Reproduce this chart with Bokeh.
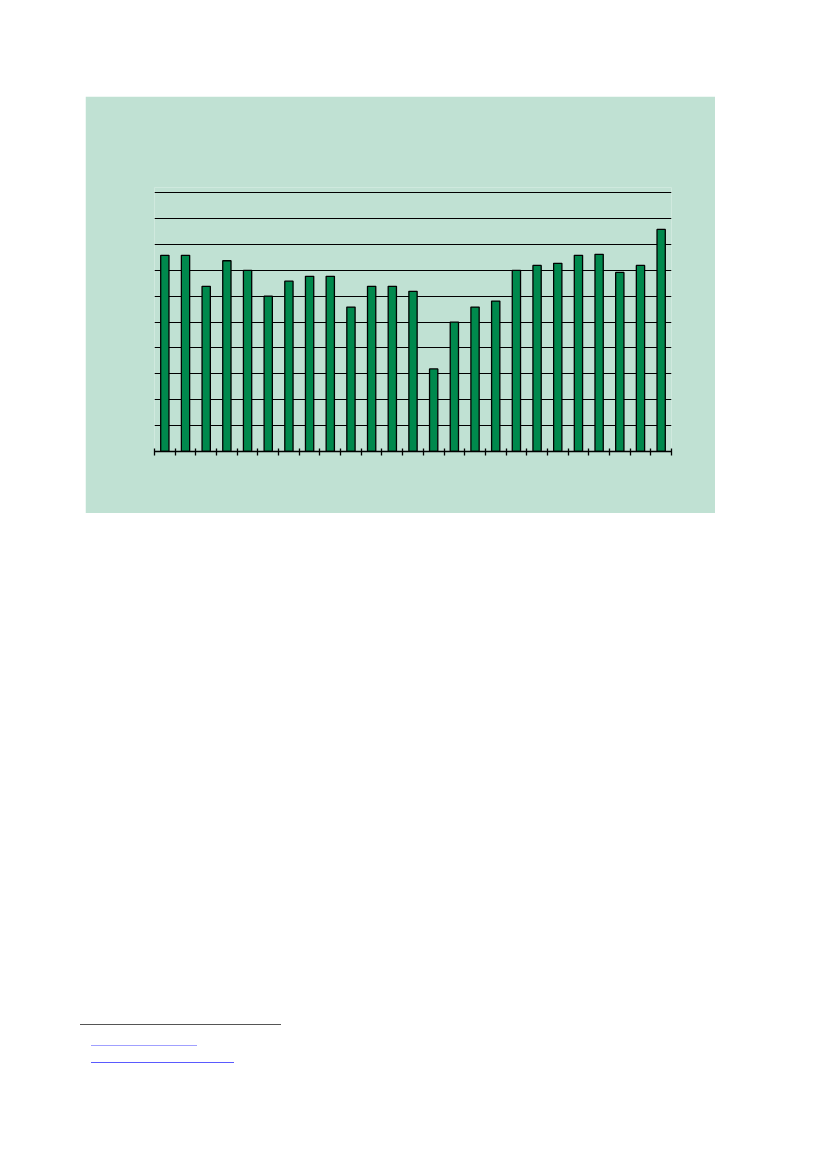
from bokeh.plotting import figure
from bokeh.layouts import column, row
from bokeh.models import Spacer, Div, FixedTicker, ColumnDataSource, Range1d, CustomJSTickFormatter
from bokeh.embed import file_html
from bokeh.resources import INLINE

# Data (25 bars, scale 0..10)
categories = list(range(1, 26))
values = [7.58, 7.58, 6.38, 7.37, 7.0, 6.0, 6.58, 6.77, 6.77, 5.58,
          6.38, 6.38, 6.19, 3.19, 5.0, 5.58, 5.81, 7.0, 7.19, 7.27,
          7.58, 7.62, 6.92, 7.19, 8.58]
y_ticks = [0, 1, 2, 3, 4, 5, 6, 7, 8, 9, 10]

BG = "#c0e1d3"
BAR = "#00894d"

src = ColumnDataSource(dict(x=[c - 0.5 for c in categories], top=values))

p = figure(width=630, height=417, output_backend="svg", toolbar_location=None,
           x_range=Range1d(0, len(categories)), y_range=Range1d(0, 10.2),
           min_border_left=69, min_border_right=44, min_border_top=91,
           min_border_bottom=62)
p.background_fill_color = BG
p.border_fill_color = BG
p.outline_line_color = None

p.vbar(x="x", top="top", width=0.4, bottom=0, source=src,
       fill_color=BAR, line_color="black", line_width=1.3)

p.yaxis.visible = False
p.xgrid.visible = False
p.ygrid.ticker = FixedTicker(ticks=y_ticks[1:])
p.ygrid.grid_line_color = "black"
p.ygrid.grid_line_width = 1.2

p.xaxis.ticker = FixedTicker(ticks=list(range(0, len(categories) + 1)))
p.xaxis.formatter = CustomJSTickFormatter(code="return ''")
p.xaxis.axis_line_color = "black"
p.xaxis.axis_line_width = 1.3
p.xaxis.major_tick_line_color = "black"
p.xaxis.major_tick_line_width = 1.3
p.xaxis.major_tick_in = 3
p.xaxis.major_tick_out = 4
p.xaxis.minor_tick_line_color = None

foot = Div(width=260, height=50, text=(
    '<div style="position:relative;width:240px;height:45px">'
    '<div style="position:absolute;left:0;top:0;width:201px;border-top:1px solid #555"></div>'
    '<div style="position:absolute;left:11px;top:21px;width:106px;border-top:1px solid #a0a0ff"></div>'
    '<div style="position:absolute;left:11px;top:38px;width:143px;border-top:1px solid #5a5aff"></div>'
    '</div>'))

layout = column(
    Spacer(height=96, width=10),
    row(Spacer(width=85, height=10), p),
    Spacer(height=506, width=10),
    row(Spacer(width=75, height=10), foot),
)

open("out.html", "w").write(file_html(layout, INLINE))
